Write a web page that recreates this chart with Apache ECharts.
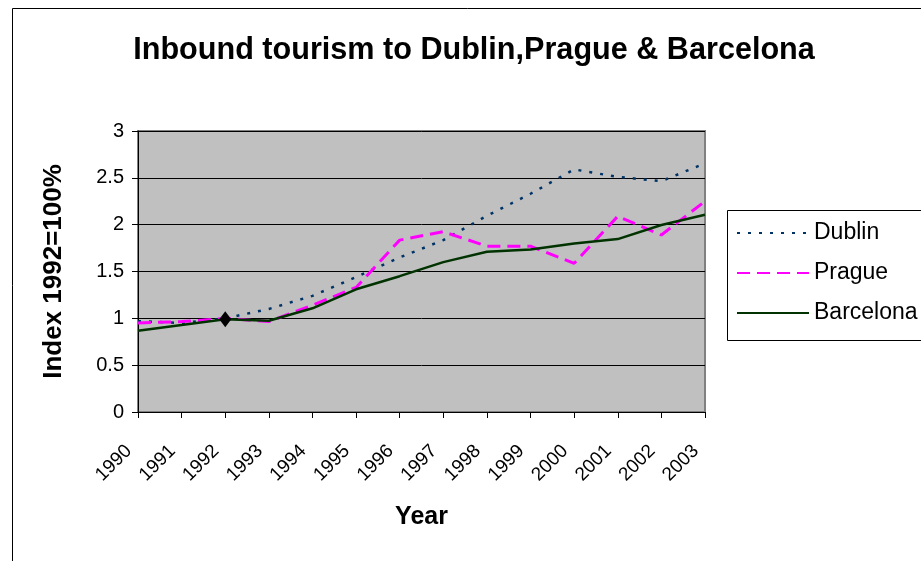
<!DOCTYPE html>
<html><head><meta charset="utf-8">
<script src="https://cdn.jsdelivr.net/npm/echarts@6/dist/echarts.min.js"></script>
<style>html,body{margin:0;padding:0;background:#fff}#c{width:921px;height:561px}</style>
</head><body><div id="c"></div>
<script>
var years = ['1990','1991','1992','1993','1994','1995','1996','1997','1998','1999','2000','2001','2002','2003'];
var dublin = [0.97,0.95,1.0,1.10,1.24,1.44,1.65,1.835,2.095,2.33,2.59,2.51,2.465,2.655];
var prague = [0.95,0.965,1.0,0.965,1.14,1.33,1.835,1.925,1.77,1.77,1.587,2.09,1.89,2.25];
var barcelona = [0.868,0.93,0.99,0.975,1.107,1.31,1.45,1.60,1.71,1.736,1.80,1.846,1.996,2.106];
var baseIndex = 2; // 1992 = 100%
var F = 'Liberation Sans, Arial, sans-serif';
var chart = echarts.init(document.getElementById('c'));
chart.setOption({
  animation:false,
  graphic:[
    {type:'rect', z:-10, shape:{x:12.5,y:8.5,width:1000,height:1000}, style:{fill:'#fff',stroke:'#000',lineWidth:1}},
    {type:'rect', z:-5, shape:{x:727.5,y:210.5,width:300,height:130}, style:{fill:'#fff',stroke:'#000',lineWidth:1}}
  ],
  title:{text:'Inbound tourism to Dublin,Prague & Barcelona', left:469, textAlign:'center', top:30,
    textStyle:{fontFamily:F,fontSize:30.6,fontWeight:'bold',color:'#000'}},
  legend:{orient:'vertical', left:736, top:221, padding:0, itemWidth:72, itemHeight:14, itemGap:16,
    itemStyle:{opacity:0},
    textStyle:{fontFamily:F,fontSize:23,lineHeight:24,color:'#000'}, data:['Dublin','Prague','Barcelona']},
  grid:{left:138, top:131, right:216, bottom:149, show:true, backgroundColor:'#c0c0c0', borderColor:'#808080', borderWidth:2},
  xAxis:{type:'category', data:years, boundaryGap:false, name:'Year', nameLocation:'middle', nameGap:93,
    nameTextStyle:{fontFamily:F,fontSize:25,fontWeight:'bold',color:'#000'},
    axisLine:{lineStyle:{color:'#000',width:1}}, axisTick:{show:true,length:6,lineStyle:{color:'#000'}},
    axisLabel:{rotate:45, fontFamily:F, fontSize:19, color:'#000', margin:27, padding:[0,13,0,0]}, splitLine:{show:false}},
  yAxis:{type:'value', min:0, max:3, interval:0.5, name:'Index 1992=100%', nameLocation:'middle', nameGap:71,
    nameTextStyle:{fontFamily:F,fontSize:26,fontWeight:'bold',color:'#000'},
    axisLine:{show:true,lineStyle:{color:'#000'}}, axisTick:{show:true,length:6,lineStyle:{color:'#000'}},
    axisLabel:{fontFamily:F,fontSize:20,color:'#000',margin:14},
    splitLine:{lineStyle:{color:'#000',width:1}}},
  series:[
    {name:'Dublin', type:'line', data:dublin, symbol:'none', z:3,
      lineStyle:{color:'#003366', width:2.5, type:[3,8]}, itemStyle:{color:'#003366'}},
    {name:'Prague', type:'line', data:prague, symbol:'none', z:4,
      lineStyle:{color:'#ff00ff', width:3, type:[13,7]}, itemStyle:{color:'#ff00ff'}},
    {name:'Barcelona', type:'line', symbol:'none', z:5,
      data: barcelona.map(function(v,i){ return i===baseIndex ? {value:v, symbol:'diamond', symbolSize:[12,16], itemStyle:{color:'#000', opacity:1}} : v; }),
      lineStyle:{color:'#003300', width:2.5}, itemStyle:{color:'#003300'}}
  ]
});
</script></body></html>
